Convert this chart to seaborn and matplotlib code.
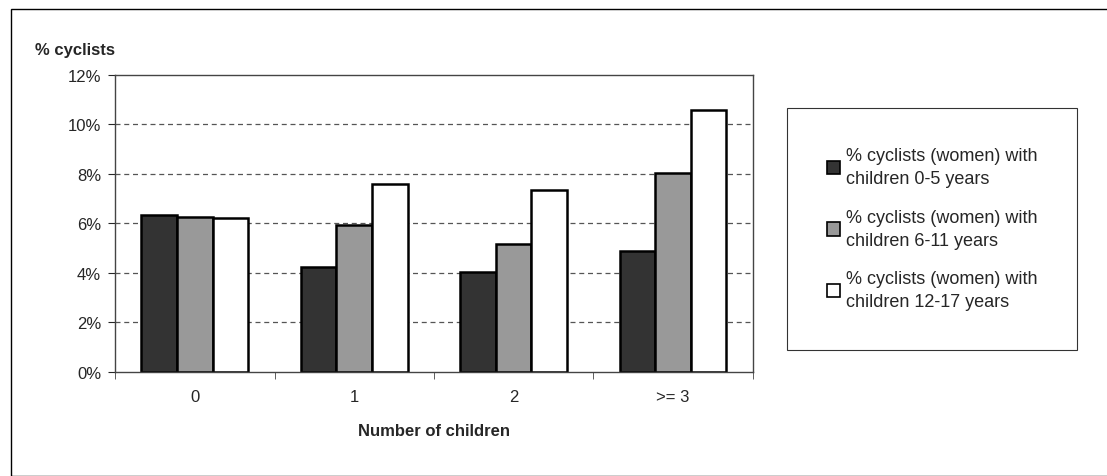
import pandas as pd
import matplotlib.pyplot as plt
import seaborn as sns
from matplotlib.patches import Rectangle

categories = ['0', '1', '2', '>= 3']
series_names = ['% cyclists (women) with\nchildren 0-5 years',
                '% cyclists (women) with\nchildren 6-11 years',
                '% cyclists (women) with\nchildren 12-17 years']
age_0_5 = [6.35, 4.25, 4.05, 4.9]
age_6_11 = [6.25, 5.95, 5.15, 8.05]
age_12_17 = [6.2, 7.6, 7.35, 10.6]
colors = ['#333333', '#999999', '#ffffff']

rows = []
for name, vals in zip(series_names, [age_0_5, age_6_11, age_12_17]):
    for cat, v in zip(categories, vals):
        rows.append({'children': cat, 'series': name, 'pct': v})
df = pd.DataFrame(rows)

sns.set_style('white')
plt.rcParams['font.family'] = ['Liberation Sans', 'DejaVu Sans']

fig = plt.figure(figsize=(11.07, 4.77), dpi=100)
ax = fig.add_axes([0.104, 0.218, 0.576, 0.623])
sns.barplot(data=df, x='children', y='pct', hue='series', palette=colors,
            edgecolor='black', linewidth=1.8, width=0.67, saturation=1, ax=ax)

ax.set_ylim(0, 12)
ax.set_yticks(range(0, 13, 2))
ax.set_yticklabels([f'{t}%' for t in range(0, 13, 2)], fontsize=12)
ax.tick_params(axis='x', labelsize=12, length=0, pad=12)
ax.tick_params(axis='y', length=5, direction='out', left=True, pad=5)
for t in range(2, 12, 2):
    ax.axhline(t, color='#555555', linestyle=(0, (4, 3)), linewidth=0.9, zorder=0)
for s in ax.spines.values():
    s.set_color('#444444')
    s.set_linewidth(1)
ax.set_xlabel('Number of children', fontsize=12, fontweight='bold', labelpad=14)
ax.set_ylabel('')
ax.set_xlim(-0.5, 3.5)
ax.set_xticks([-0.5, 0.5, 1.5, 2.5, 3.5], minor=True)
ax.tick_params(axis='x', which='minor', length=5, bottom=True, color='#444444')

fig.text(0.032, 0.885, '% cyclists', fontsize=12, fontweight='bold')

leg = ax.legend(loc='upper left', bbox_to_anchor=(1.054, 0.89), frameon=True,
                fontsize=13, handlelength=0.75, handleheight=0.75,
                labelspacing=1.2, borderpad=2.2, handletextpad=0.3,
                borderaxespad=0, fancybox=False)
leg.get_frame().set_edgecolor('black')
leg.get_frame().set_linewidth(0.8)
for txt in leg.get_texts():
    txt.set_linespacing(1.45)
for h in leg.legend_handles:
    h.set_linewidth(1.2)

fig.patches.append(Rectangle((0.010, 0.0), 1.0, 0.979, transform=fig.transFigure,
                             fill=False, edgecolor='black', linewidth=1))
fig.savefig('out.png', dpi=100)
